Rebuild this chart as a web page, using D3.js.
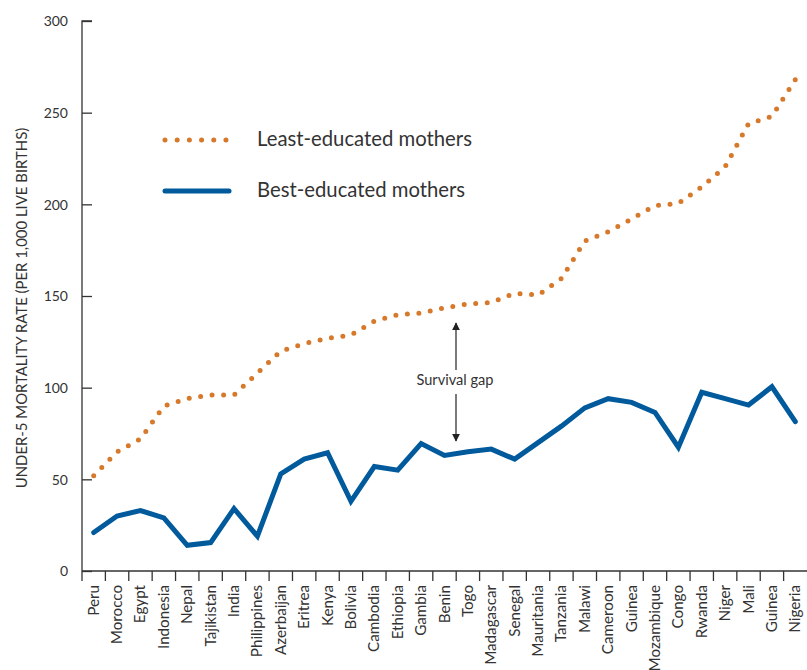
<!DOCTYPE html>
<html>
<head>
<meta charset="utf-8">
<script src="https://cdn.jsdelivr.net/npm/d3@7"></script>
<style>
  html, body { margin: 0; padding: 0; background: #fff; }
  svg { display: block; font-family: Lato, "Open Sans", sans-serif; }
</style>
</head>
<body>
<svg id="chart" width="807" height="670"></svg>
<script>
const countries = ["Peru","Morocco","Egypt","Indonesia","Nepal","Tajikistan","India","Philippines","Azerbaijan","Eritrea","Kenya","Bolivia","Cambodia","Ethiopia","Gambia","Benin","Togo","Madagascar","Senegal","Mauritania","Tanzania","Malawi","Cameroon","Guinea","Mozambique","Congo","Rwanda","Niger","Mali","Guinea","Nigeria"];
const leastEducated = [52, 65, 72, 90, 94, 96, 96, 108, 120, 124, 127, 128.7, 136.3, 139.8, 140.7, 143.5, 145.7, 146.4, 151.5, 150.5, 159.5, 180, 185, 192, 199.3, 200.5, 209.5, 220.5, 244, 248, 268];
const bestEducated = [21, 30, 33, 29, 14, 15.5, 34, 19, 53, 61, 64.5, 38, 57, 55, 69.5, 63, 65, 66.5, 61, 70, 79, 89, 94, 92, 86.5, 67.5, 97.5, 94, 90.5, 100.5, 81.5];
const yTicks = [0, 50, 100, 150, 200, 250, 300];
const seriesNames = ["Least-educated mothers", "Best-educated mothers"];
const yTitle = "UNDER-5 MORTALITY RATE (PER 1,000 LIVE BIRTHS)";
const gapLabel = "Survival gap";

(function () {
const orange = "#d6792b";
const blue = "#005a9c";
const textColor = "#333333";
const axisColor = "#333333";

const svg = d3.select("#chart");
const mLeft = 82, mRight = 807, mTop = 21, mBottom = 571;

const x = d3.scaleBand().domain(d3.range(countries.length)).range([mLeft, mRight]).paddingInner(0).paddingOuter(0);
const y = d3.scaleLinear().domain([0, 300]).range([mBottom, mTop]);
const cx = i => x(i) + x.bandwidth() / 2;

// Y axis
const yAxis = svg.append("g").attr("transform", `translate(${mLeft},0)`)
  .call(d3.axisRight(y).tickValues(yTicks).tickSize(10).tickFormat(d3.format("d")));
yAxis.select(".domain").attr("d", `M10,${y(300)}H0V${y(0)}`).attr("stroke", axisColor).attr("stroke-width", 1.3);
yAxis.selectAll(".tick line").attr("stroke", axisColor).attr("stroke-width", 1.3);
yAxis.selectAll(".tick text").attr("x", -14).attr("text-anchor", "end").attr("dy", "0.35em")
  .attr("fill", textColor).style("font-size", "14px").style("font-family", "Lato, sans-serif");

// X axis: ticks at band boundaries
const xb = svg.append("g");
xb.append("line").attr("x1", mLeft).attr("x2", mRight).attr("y1", y(0)).attr("y2", y(0))
  .attr("stroke", axisColor).attr("stroke-width", 1.3);
xb.selectAll("line.tk").data(d3.range(countries.length)).join("line").attr("class", "tk")
  .attr("x1", i => x(i)).attr("x2", i => x(i)).attr("y1", y(0)).attr("y2", y(0) + 10)
  .attr("stroke", axisColor).attr("stroke-width", 1.3);
xb.selectAll("text").data(countries).join("text")
  .attr("transform", (d, i) => `translate(${cx(i) + 5},${y(0) + 14}) rotate(-90)`)
  .attr("text-anchor", "end")
  .attr("fill", textColor).style("font-size", "15.2px")
  .text(d => d);

// Y title
svg.append("text")
  .attr("transform", `translate(27,${(y(0) + y(300)) / 2 + 12}) rotate(-90)`)
  .attr("text-anchor", "middle").attr("fill", textColor).style("font-size", "14.9px")
  .text(yTitle);

// Lines
const lineGen = d3.line().x((d, i) => cx(i)).y(d => y(d));
const op = svg.append("path").datum(leastEducated).attr("d", lineGen)
  .attr("fill", "none").attr("stroke", orange).attr("stroke-width", 5)
  .attr("stroke-linecap", "round");
const L = op.node().getTotalLength();
const nDots = Math.round(L / 11.6);
op.attr("stroke-dasharray", `0 ${(L / nDots) - 0.002}`);
svg.append("path").datum(bestEducated).attr("d", lineGen)
  .attr("fill", "none").attr("stroke", blue).attr("stroke-width", 5)
  .attr("stroke-linejoin", "miter").attr("stroke-linecap", "round");

// Legend
const lg = svg.append("g");
lg.append("line").attr("x1", 165).attr("x2", 226).attr("y1", 140).attr("y2", 140)
  .attr("stroke", orange).attr("stroke-width", 5).attr("stroke-linecap", "round").attr("stroke-dasharray", "0 12.19");
lg.append("text").attr("x", 257).attr("y", 146).attr("fill", textColor).style("font-size", "20.3px").text(seriesNames[0]);
lg.append("line").attr("x1", 165).attr("x2", 229).attr("y1", 191).attr("y2", 191)
  .attr("stroke", blue).attr("stroke-width", 5).attr("stroke-linecap", "round");
lg.append("text").attr("x", 257).attr("y", 197).attr("fill", textColor).style("font-size", "20.3px").text(seriesNames[1]);

// Survival gap annotation
const defs = svg.append("defs");
defs.append("marker").attr("id", "ah").attr("viewBox", "0 0 10 10").attr("refX", 9).attr("refY", 5)
  .attr("markerWidth", 8).attr("markerHeight", 8).attr("markerUnits", "userSpaceOnUse").attr("orient", "auto")
  .append("path").attr("d", "M0,0L10,5L0,10Z").attr("fill", "#222");
const ax = 456;
svg.append("line").attr("x1", ax).attr("x2", ax).attr("y1", 370).attr("y2", 323)
  .attr("stroke", "#222").attr("stroke-width", 1.2).attr("marker-end", "url(#ah)");
svg.append("line").attr("x1", ax).attr("x2", ax).attr("y1", 394).attr("y2", 441)
  .attr("stroke", "#222").attr("stroke-width", 1.2).attr("marker-end", "url(#ah)");
svg.append("text").attr("x", ax - 1).attr("y", 385).attr("text-anchor", "middle")
  .attr("fill", textColor).style("font-size", "14.6px").text(gapLabel);
})();
</script>
</body>
</html>
